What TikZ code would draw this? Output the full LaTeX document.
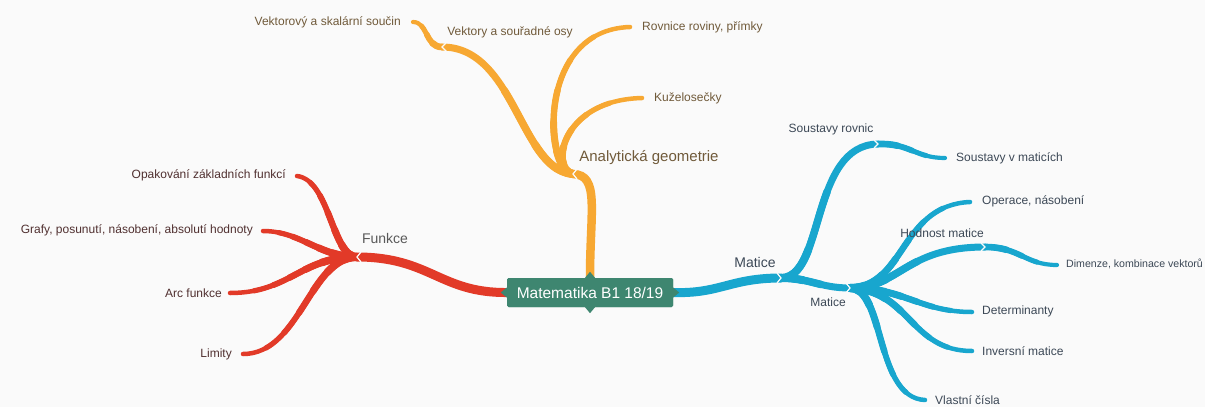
\documentclass[tikz,border=0pt]{standalone}
\usepackage{fontspec}
\setmainfont{Liberation Sans}
\usetikzlibrary{calc}
\definecolor{bg}{RGB}{250,250,250}
\definecolor{cred}{RGB}{226,58,40}
\definecolor{corange}{RGB}{247,168,50}
\definecolor{cblue}{RGB}{24,166,206}
\definecolor{cgreen}{RGB}{62,134,112}
\definecolor{tred}{RGB}{80,48,48}
\definecolor{torange}{RGB}{112,90,58}
\definecolor{tblue}{RGB}{60,72,86}
% tapered branch: #1 colour, #2 start, #3 control 1, #4 control 2, #5 end, #6 list macro of fraction/width
\newcommand{\tbranch}[6]{%
  \foreach \ts/\tw in #6 {
    \path ($(#2)!\ts!(#3)$) coordinate (tA) ($(#3)!\ts!(#4)$) coordinate (tB) ($(#4)!\ts!(#5)$) coordinate (tC);
    \path ($(tA)!\ts!(tB)$) coordinate (tD) ($(tB)!\ts!(tC)$) coordinate (tE);
    \path ($(tD)!\ts!(tE)$) coordinate (tF);
    \draw[draw=#1, line width=\tw pt, line cap=round] (#2) .. controls (tA) and (tD) .. (tF);
  }%
}
\newcommand{\lstleaf}{1/4.5,0.85/5.2,0.7/5.8,0.55/6.4,0.4/7,0.25/7.6,0.1/8}
\newcommand{\lstsub}{1/4.2,0.75/5,0.5/5.8,0.25/6.6}
\newcommand{\lstinner}{1/7,0.6/7.5,0.3/8}
\begin{document}
\begin{tikzpicture}[x=1pt,y=-1pt,
  lbl/.style={inner sep=0pt, font=\fontsize{12}{14}\selectfont},
  mid/.style={inner sep=0pt, font=\fontsize{12}{14}\selectfont},
  big/.style={inner sep=0pt, font=\fontsize{14}{16}\selectfont},
  chev/.style={draw=bg, line width=1.2pt},
  root/.style={fill=cgreen, text=white, minimum width=166pt, minimum height=29pt, inner sep=0pt, rounded corners=1.5pt, font=\fontsize{15.5}{17}\selectfont}
]
\useasboundingbox[fill=bg] (0,0) rectangle (1205,407);

% junction coordinates
\coordinate (fj) at (357,257);
\coordinate (oj) at (573,174);
\coordinate (vj) at (442,47);
\coordinate (bj) at (781,278);
\coordinate (sj) at (878,144);
\coordinate (mj) at (850,288);
\coordinate (hj) at (985,247);

% leaf end coordinates
\coordinate (e1) at (297,176);
\coordinate (e2) at (263,231);
\coordinate (e3) at (230,293);
\coordinate (e4) at (243,354);
\coordinate (e5) at (413,22);
\coordinate (e6) at (630,27);
\coordinate (e7) at (642,98);
\coordinate (e8) at (945,158);
\coordinate (e9) at (970,202);
\coordinate (e10) at (1057,265);
\coordinate (e11) at (972,312);
\coordinate (e12) at (972,351);
\coordinate (e13) at (925,400);

\node[root] (root) at (590,292.5) {Matematika B1 18/19};

% main branches
\draw[draw=cred, line width=9pt, line cap=round] (root.west) .. controls (440,293) and (430,257) .. (fj);
\draw[draw=corange, line width=8.5pt, line cap=round] (root.north) .. controls (590,210) and (600,175) .. (oj);
\draw[draw=cblue, line width=9pt, line cap=round] (root.east) .. controls (720,294) and (730,278) .. (bj);

% red children
\tbranch{cred}{fj}{332,257}{330,180}{e1}{\lstleaf}
\tbranch{cred}{fj}{320,257}{300,231}{e2}{\lstleaf}
\tbranch{cred}{fj}{300,257}{290,293}{e3}{\lstleaf}
\tbranch{cred}{fj}{310,257}{300,354}{e4}{\lstleaf}

% orange children
\tbranch{corange}{oj}{520,170}{515,47}{vj}{\lstinner}
\tbranch{corange}{vj}{425,47}{428,22}{e5}{\lstsub}
\tbranch{corange}{oj}{545,172}{535,30}{e6}{\lstleaf}
\tbranch{corange}{oj}{550,170}{560,100}{e7}{\lstleaf}

% blue children
\tbranch{cblue}{bj}{825,278}{810,145}{sj}{\lstinner}
\tbranch{cblue}{sj}{910,143}{915,158}{e8}{\lstsub}
\tbranch{cblue}{bj}{810,278}{820,288}{mj}{\lstinner}
\tbranch{cblue}{mj}{905,288}{900,205}{e9}{\lstleaf}
\tbranch{cblue}{mj}{900,288}{905,247}{hj}{\lstinner}
\tbranch{cblue}{hj}{1020,247}{1025,265}{e10}{\lstsub}
\tbranch{cblue}{mj}{905,288}{920,312}{e11}{\lstleaf}
\tbranch{cblue}{mj}{910,290}{910,351}{e12}{\lstleaf}
\tbranch{cblue}{mj}{885,288}{875,398}{e13}{\lstleaf}

% chevrons
\draw[chev] ($(fj)+(4,-5)$) -- (fj) -- ($(fj)+(4,5)$);
\draw[chev] ($(oj)+(4,-5)$) -- (oj) -- ($(oj)+(4,5)$);
\draw[chev] ($(vj)+(4,-4)$) -- (vj) -- ($(vj)+(4,4)$);
\draw[chev] ($(bj)+(-4,-5)$) -- (bj) -- ($(bj)+(-4,5)$);
\draw[chev] ($(sj)+(-4,-4)$) -- (sj) -- ($(sj)+(-4,4)$);
\draw[chev] ($(mj)+(-4,-5)$) -- (mj) -- ($(mj)+(-4,5)$);
\draw[chev] ($(hj)+(-4,-4)$) -- (hj) -- ($(hj)+(-4,4)$);

% root redraw and notches
\node[root] (root2) at (590,292.5) {Matematika B1 18/19};
\fill[cgreen] ($(root.west)+(0,-5)$) -- ($(root.west)+(-6,0)$) -- ($(root.west)+(0,5)$) -- cycle;
\fill[cgreen] ($(root.east)+(0,-5)$) -- ($(root.east)+(6,0)$) -- ($(root.east)+(0,5)$) -- cycle;
\fill[cgreen] ($(root.north)+(-5,0)$) -- ($(root.north)+(0,-6)$) -- ($(root.north)+(5,0)$) -- cycle;
\fill[cgreen] ($(root.south)+(-5,0)$) -- ($(root.south)+(0,6)$) -- ($(root.south)+(5,0)$) -- cycle;

% labels red
\node[big, text=black!65, anchor=center] (funkce) at (385,238) {Funkce};
\node[lbl, text=tred, anchor=east] (l1) at (286,175) {Opakování základních funkcí};
\node[lbl, text=tred, anchor=east] (l2) at (253,230) {Grafy, posunutí, násobení, absolutí hodnoty};
\node[lbl, text=tred, anchor=east] (l3) at (222,293) {Arc funkce};
\node[lbl, text=tred, anchor=east] (l4) at (232,354) {Limity};

% labels orange
\node[big, text=torange, anchor=center, font=\fontsize{15}{17}\selectfont] (ag) at (649,158) {Analytická geometrie};
\node[mid, text=torange, anchor=center] (vso) at (510,32) {Vektory a souřadné osy};
\node[lbl, text=torange, anchor=east] (l5) at (401,22) {Vektorový a skalární součin};
\node[lbl, text=torange, anchor=west] (l6) at (642,27) {Rovnice roviny, přímky};
\node[lbl, text=torange, anchor=west] (l7) at (654,98) {Kuželosečky};

% labels blue
\node[big, text=tblue, anchor=center] (mat) at (755,262) {Matice};
\node[mid, text=tblue, anchor=center] (sr) at (831,129) {Soustavy rovnic};
\node[lbl, text=tblue, anchor=west] (l8) at (956,158) {Soustavy v maticích};
\node[mid, text=tblue, anchor=center] (mat2) at (828,302) {Matice};
\node[lbl, text=tblue, anchor=west] (l9) at (982,201) {Operace, násobení};
\node[mid, text=tblue, anchor=center] (hm) at (942,233) {Hodnost matice};
\node[lbl, text=tblue, anchor=west, font=\fontsize{10.6}{12}\selectfont] (l10) at (1066,264) {Dimenze, kombinace vektorů};
\node[lbl, text=tblue, anchor=west] (l11) at (982,311) {Determinanty};
\node[lbl, text=tblue, anchor=west] (l12) at (982,351) {Inversní matice};
\node[lbl, text=tblue, anchor=west] (l13) at (935,400) {Vlastní čísla};
\end{tikzpicture}
\end{document}
